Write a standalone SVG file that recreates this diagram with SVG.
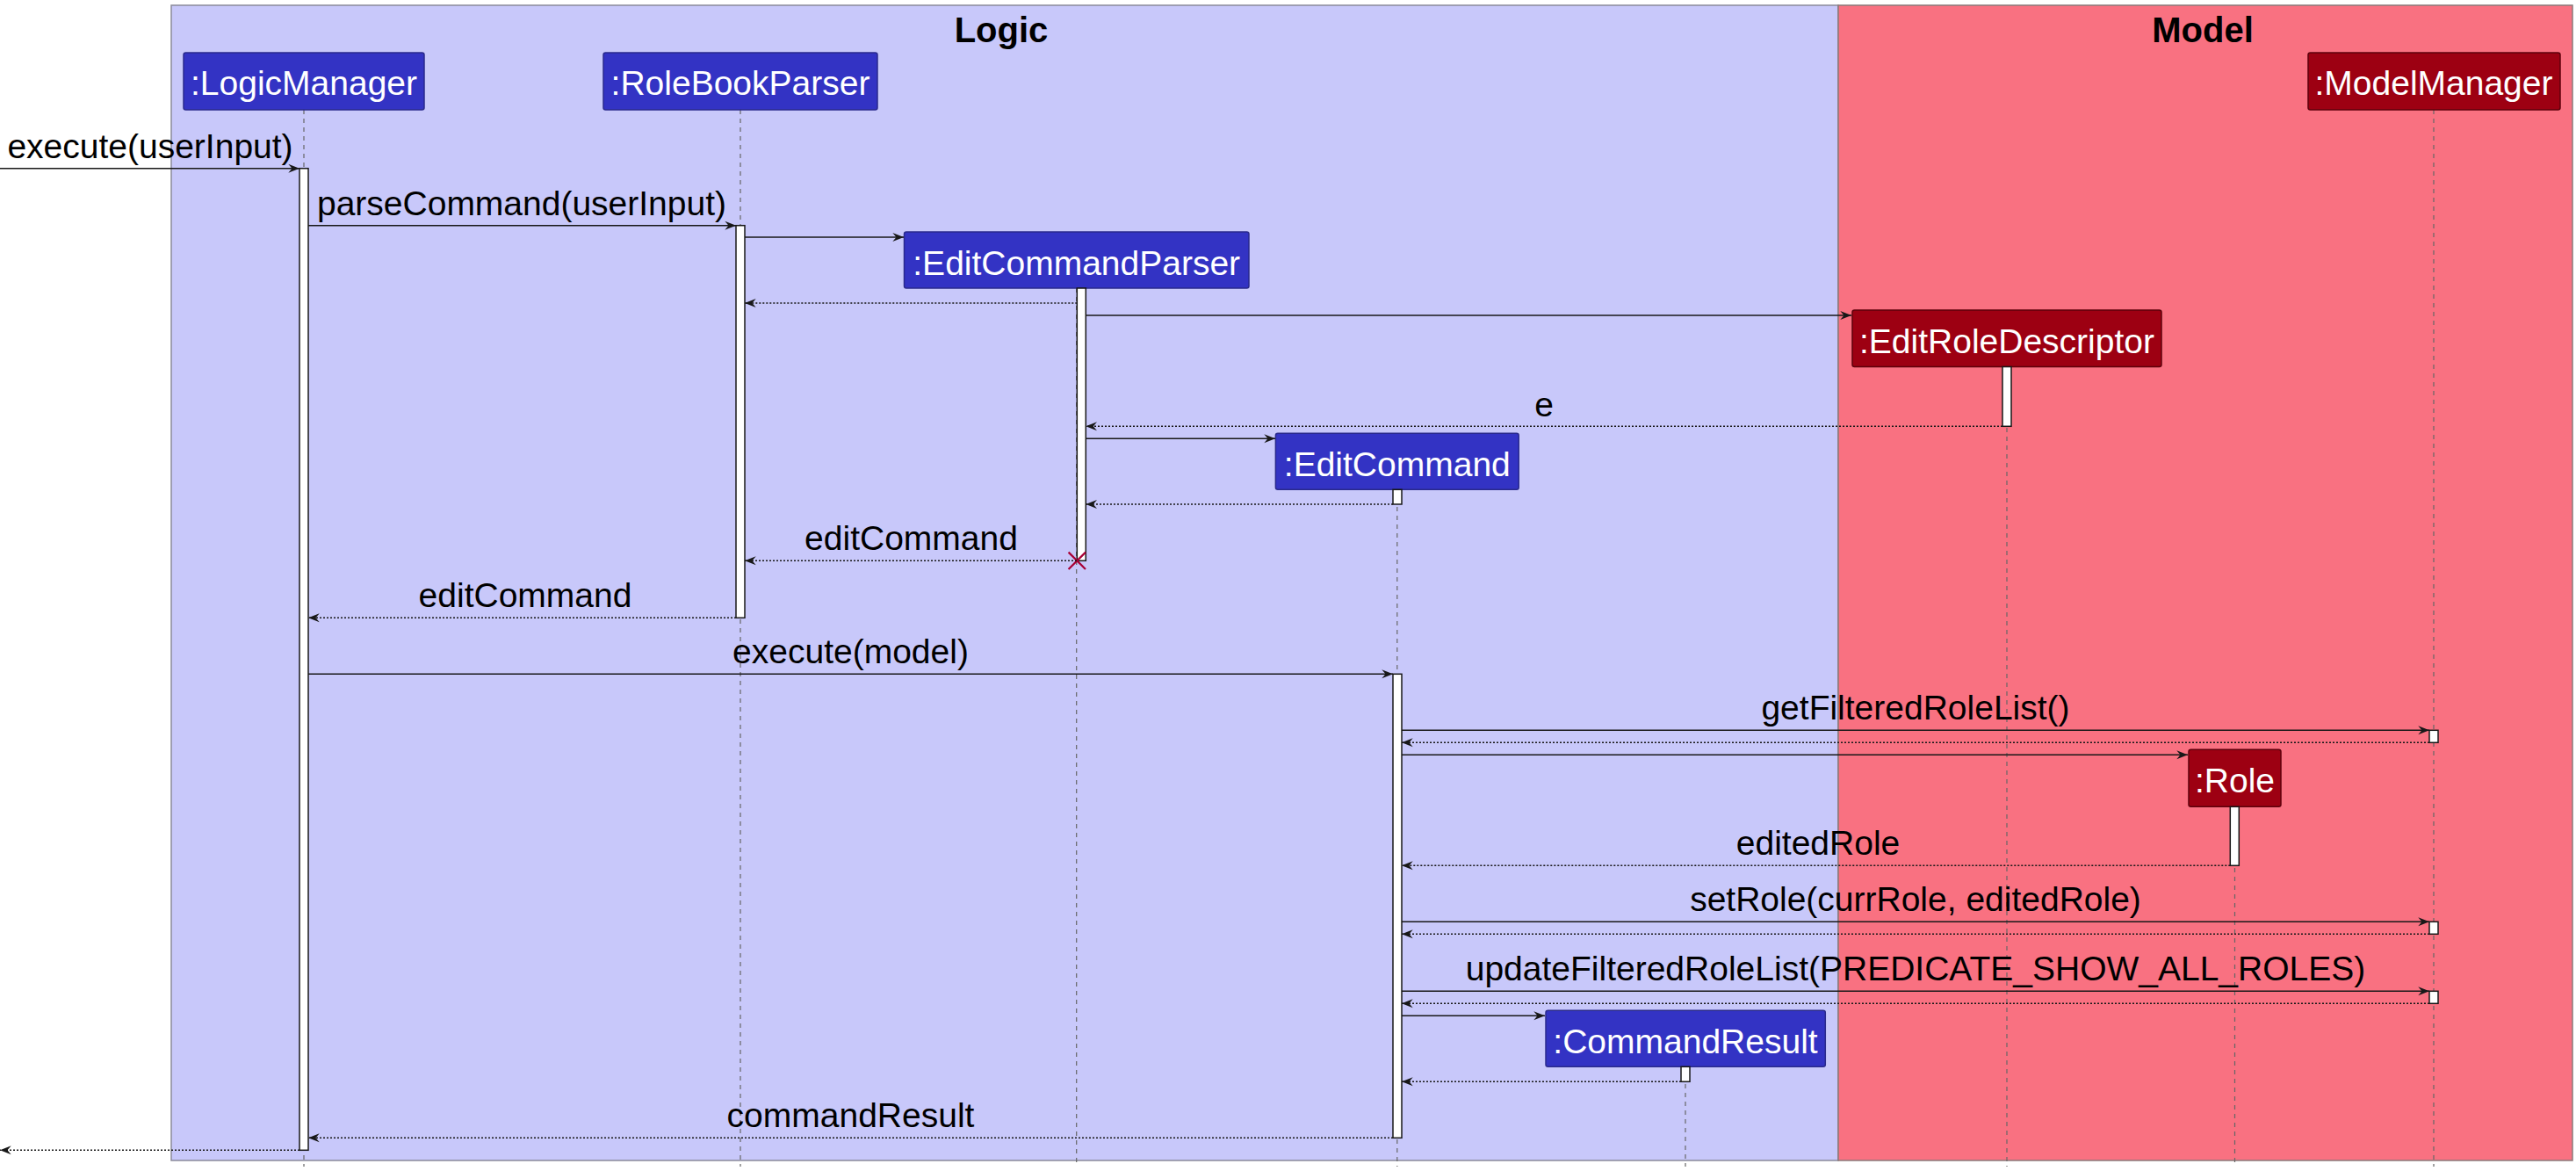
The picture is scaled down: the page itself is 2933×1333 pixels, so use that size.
<svg xmlns="http://www.w3.org/2000/svg" width="2933" height="1333" viewBox="0 0 2933 1333">
<style>
text{font-family:"Liberation Sans",Arial,sans-serif}
.title{font-size:40px;font-weight:bold;fill:#000;text-anchor:middle}
.pname{font-size:39px;fill:#fff;text-anchor:middle}
.msg{font-size:39px;fill:#000;text-anchor:middle}
.pl{fill:#3333C4;stroke:#2a2a8c;stroke-width:1.5}
.pm{fill:#9D0012;stroke:#5e000b;stroke-width:1.5}
.life{stroke:#666;stroke-width:1.2;stroke-dasharray:5,5;fill:none}
.act{fill:#fff;stroke:#181818;stroke-width:1.5}
.call{stroke:#181818;stroke-width:1.6;fill:none;marker-end:url(#arr)}
.ret{stroke:#181818;stroke-width:1.4;stroke-dasharray:2,2;fill:none;marker-end:url(#arr)}
.kill{stroke:#A80036;stroke-width:2.2}
</style>
<defs>
<marker id="arr" viewBox="-14 -6 15 12" refX="0" refY="0" markerWidth="15" markerHeight="12" orient="auto" markerUnits="userSpaceOnUse">
<path d="M0,0 L-12.7,-5 L-8.5,0 L-12.7,5 Z" fill="#181818"/>
</marker>
</defs>
<rect width="2933" height="1333" fill="#fff"/>
<g id="box-logic">
<rect x="195" y="6" width="1898" height="1315" fill="#C8C8FA" stroke="#8a8a9a" stroke-width="1.5"/>
<text class="title" x="1140" y="48">Logic</text>
</g>
<g id="box-model">
<rect x="2093" y="6" width="836" height="1315" fill="#F97181" stroke="#8a7a7a" stroke-width="1.5"/>
<text class="title" x="2508" y="48">Model</text>
</g>
<g id="lifelines">
<line class="life" x1="346" y1="125" x2="346" y2="1328"/>
<line class="life" x1="843" y1="125" x2="843" y2="1328"/>
<line class="life" x1="1225.7" y1="328" x2="1225.7" y2="1328"/>
<line class="life" x1="1590.8" y1="557" x2="1590.8" y2="1328"/>
<line class="life" x1="1919" y1="1214" x2="1919" y2="1328"/>
<line class="life" x1="2285" y1="417" x2="2285" y2="1328"/>
<line class="life" x1="2544.5" y1="918" x2="2544.5" y2="1328"/>
<line class="life" x1="2771" y1="125" x2="2771" y2="1328"/>
</g>
<g id="LogicManager">
<rect class="pl" x="209" y="60" width="274" height="65" rx="2.5"/>
<text class="pname" x="346" y="108">:LogicManager</text>
<rect class="act" x="341" y="191.7" width="10" height="1117.6"/>
</g>
<g id="RoleBookParser">
<rect class="pl" x="687" y="60" width="312" height="65" rx="2.5"/>
<text class="pname" x="843" y="108">:RoleBookParser</text>
<rect class="act" x="838" y="256.7" width="10" height="446.6"/>
</g>
<g id="EditCommandParser">
<rect class="pl" x="1029.5" y="264" width="392.5" height="64" rx="2.5"/>
<text class="pname" x="1225.7" y="312.5">:EditCommandParser</text>
<rect class="act" x="1226.3" y="328" width="10" height="310.3"/>
<line class="kill" x1="1216.6" y1="628.6" x2="1236" y2="648"/>
<line class="kill" x1="1236" y1="628.6" x2="1216.6" y2="648"/>
</g>
<g id="EditCommand">
<rect class="pl" x="1452.4" y="493.3" width="276.8" height="64" rx="2.5"/>
<text class="pname" x="1590.8" y="541.8">:EditCommand</text>
<rect class="act" x="1586" y="557.3" width="10" height="16.7"/>
<rect class="act" x="1586" y="767.3" width="10" height="528"/>
</g>
<g id="CommandResult">
<rect class="pl" x="1760" y="1150.3" width="318.3" height="64" rx="2.5"/>
<text class="pname" x="1919" y="1198.8">:CommandResult</text>
<rect class="act" x="1914" y="1214.3" width="10" height="17"/>
</g>
<g id="EditRoleDescriptor">
<rect class="pm" x="2109" y="353" width="352" height="64.5" rx="2.5"/>
<text class="pname" x="2285" y="401.5">:EditRoleDescriptor</text>
<rect class="act" x="2280" y="417.5" width="10" height="67.8"/>
</g>
<g id="Role">
<rect class="pm" x="2492" y="853.3" width="105" height="65" rx="2.5"/>
<text class="pname" x="2544.5" y="902">:Role</text>
<rect class="act" x="2539.3" y="918.3" width="10" height="67"/>
</g>
<g id="ModelManager">
<rect class="pm" x="2628" y="60" width="287" height="65" rx="2.5"/>
<text class="pname" x="2771" y="108">:ModelManager</text>
<rect class="act" x="2766" y="831.3" width="10" height="14"/>
<rect class="act" x="2766" y="1049.3" width="10" height="14"/>
<rect class="act" x="2766" y="1128.3" width="10" height="14"/>
</g>
<g id="connectors">
<line class="call" x1="0" y1="191.7" x2="341" y2="191.7"/>
<text class="msg" x="171" y="180">execute(userInput)</text>
<line class="call" x1="351" y1="256.7" x2="838" y2="256.7"/>
<text class="msg" x="594" y="244.5">parseCommand(userInput)</text>
<line class="call" x1="848" y1="270" x2="1029" y2="270"/>
<line class="ret" x1="1226.3" y1="345" x2="848" y2="345"/>
<line class="call" x1="1236.3" y1="359" x2="2108" y2="359"/>
<line class="ret" x1="2280" y1="485.3" x2="1236.3" y2="485.3"/>
<text class="msg" x="1758" y="473.5">e</text>
<line class="call" x1="1236.3" y1="499.3" x2="1452" y2="499.3"/>
<line class="ret" x1="1586" y1="574" x2="1236.3" y2="574"/>
<line class="ret" x1="1226" y1="638.3" x2="848" y2="638.3"/>
<text class="msg" x="1037.5" y="626">editCommand</text>
<line class="ret" x1="838" y1="703.3" x2="351" y2="703.3"/>
<text class="msg" x="598" y="691">editCommand</text>
<line class="call" x1="351" y1="767.3" x2="1586" y2="767.3"/>
<text class="msg" x="968.5" y="755">execute(model)</text>
<line class="call" x1="1596" y1="831.3" x2="2766" y2="831.3"/>
<text class="msg" x="2181" y="819">getFilteredRoleList()</text>
<line class="ret" x1="2766" y1="845.3" x2="1596" y2="845.3"/>
<line class="call" x1="1596" y1="859.3" x2="2491" y2="859.3"/>
<line class="ret" x1="2539.3" y1="985.3" x2="1596" y2="985.3"/>
<text class="msg" x="2070" y="973">editedRole</text>
<line class="call" x1="1596" y1="1049.3" x2="2766" y2="1049.3"/>
<text class="msg" x="2181" y="1037">setRole(currRole, editedRole)</text>
<line class="ret" x1="2766" y1="1063.3" x2="1596" y2="1063.3"/>
<line class="call" x1="1596" y1="1128.3" x2="2766" y2="1128.3"/>
<text class="msg" x="2181" y="1116">updateFilteredRoleList(PREDICATE_SHOW_ALL_ROLES)</text>
<line class="ret" x1="2766" y1="1142.3" x2="1596" y2="1142.3"/>
<line class="call" x1="1596" y1="1156.3" x2="1759" y2="1156.3"/>
<line class="ret" x1="1914" y1="1231.3" x2="1596" y2="1231.3"/>
<line class="ret" x1="1586" y1="1295.3" x2="351" y2="1295.3"/>
<text class="msg" x="968.5" y="1283">commandResult</text>
<line class="ret" x1="341" y1="1309.3" x2="0" y2="1309.3"/>
</g>
</svg>
